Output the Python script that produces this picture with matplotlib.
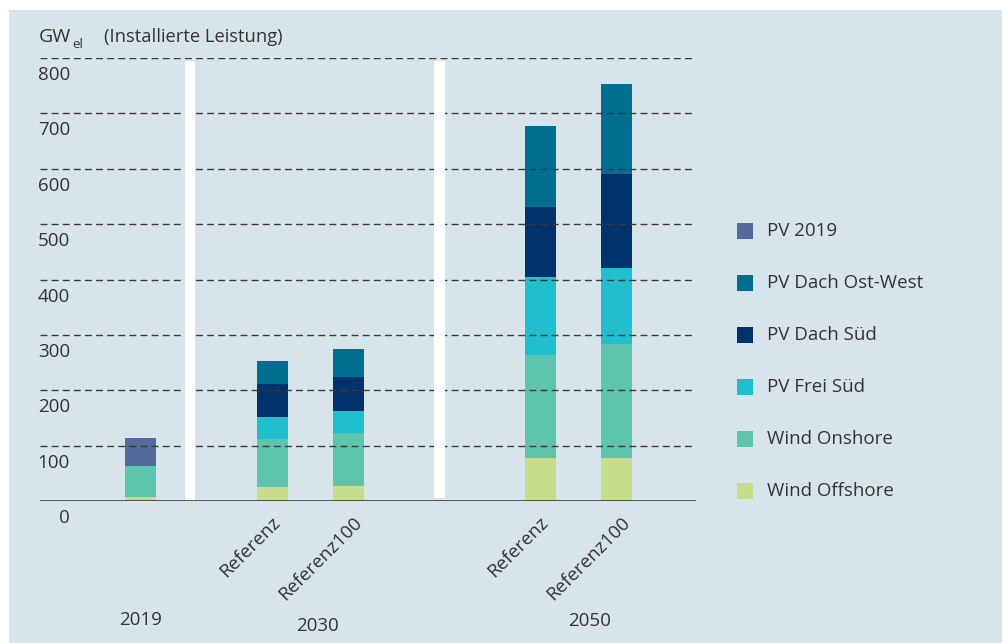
import matplotlib
matplotlib.use("Agg")
import matplotlib.pyplot as plt
import matplotlib.transforms as mtransforms
from matplotlib.patches import Rectangle

# --- Data (GW_el, installed capacity) ---
bar_labels = ["", "Referenz", "Referenz100", "Referenz", "Referenz100"]
group_labels = ["2019", "2030", "2050"]

wind_offshore    = [7.5, 25, 27, 78, 78]
wind_onshore     = [55, 87, 96, 186, 205]
pv_frei_sued     = [0, 40, 40, 140, 138]
pv_dach_sued     = [0, 59, 61, 127, 169]
pv_dach_ost_west = [0, 42, 50, 146, 163]
pv_2019          = [51, 0, 0, 0, 0]

y_ticks = [0, 100, 200, 300, 400, 500, 600, 700, 800]

# --- Layout / style ---
W, H = 1003, 643
BG = "#d8e4ec"
TXT = "#333333"
FONT = "Open Sans"

bar_x = [0, 1.75, 2.75, 5.3, 6.3]
bar_w = 0.41
group_x = [0, 2.34, 5.95]
group_y = [-0.269, -0.282, -0.271]
sep_x = [0.656, 3.96]
sep_w = [0.13, 0.146]
sep_bottom = [0, 6]

# stacking order bottom -> top
series = [
    ("Wind Offshore", wind_offshore, "#c6dd8c"),
    ("Wind Onshore", wind_onshore, "#5dc4ae"),
    ("PV Frei Süd", pv_frei_sued, "#20bfcd"),
    ("PV Dach Süd", pv_dach_sued, "#00326b"),
    ("PV Dach Ost-West", pv_dach_ost_west, "#006e91"),
    ("PV 2019", pv_2019, "#56699b"),
]

plt.rcParams["font.family"] = [FONT, "DejaVu Sans"]

fig = plt.figure(figsize=(W / 100, H / 100), dpi=100)
fig.patch.set_facecolor("white")


def fx(px):
    return px / W


def fy(py):
    return 1 - py / H


# light blue panel with white margin top/left
fig.add_artist(Rectangle((fx(9), 0), 1 - fx(9), fy(10), transform=fig.transFigure,
                         facecolor=BG, edgecolor="none", zorder=0))

ax = fig.add_axes([fx(40), 142 / H, 656 / W, 443 / H])
ax.set_facecolor("none")
ax.set_xlim(-1.331, 7.357)
ax.set_ylim(0, 800)

bottom = [0] * len(bar_x)
for name, vals, col in series:
    ax.bar(bar_x, vals, bar_w, bottom=bottom, color=col, zorder=1, linewidth=0)
    bottom = [b + v for b, v in zip(bottom, vals)]

# dashed grid lines over the bars
for t in y_ticks[1:]:
    ax.axhline(t, color="#3a3a3a", lw=1.0, ls=(0, (5, 3)), zorder=2)

# white separators between the years
for sx, sw, sb in zip(sep_x, sep_w, sep_bottom):
    ax.bar(sx, 795 - sb, sw, bottom=sb, color="white", zorder=3, linewidth=0)

ax.axhline(0, color="#2b2b2b", lw=1.8, zorder=4)

for s in ax.spines.values():
    s.set_visible(False)
ax.set_xticks([])
ax.set_yticks([])

# y labels sit below their grid lines
ylab_tr = mtransforms.offset_copy(ax.get_yaxis_transform(), fig=fig, y=-17, units="dots")
for t in y_ticks:
    ax.text(0.0457, t, str(t), transform=ylab_tr, ha="right", va="center",
            fontsize=13.5, color=TXT)

# rotated scenario labels
for x, lab in zip(bar_x, bar_labels):
    if not lab:
        continue
    dx = -2 if lab == "Referenz" else 5
    tr = mtransforms.offset_copy(ax.get_xaxis_transform(), fig=fig, x=dx, y=-12, units="dots")
    ax.text(x, 0, lab, transform=tr, rotation=45, rotation_mode="anchor",
            ha="right", va="top", fontsize=13.5, color=TXT)

for x, gy, lab in zip(group_x, group_y, group_labels):
    ax.text(x, gy, lab, transform=ax.get_xaxis_transform(), ha="center", va="center",
            fontsize=13.5, color=TXT)

# axis unit title
fig.text(fx(39), fy(37), "GW", ha="left", va="center", fontsize=14, color=TXT)
fig.text(fx(72), fy(44), "el", ha="left", va="center", fontsize=9.5, color=TXT)
fig.text(fx(104), fy(37), "(Installierte Leistung)", ha="left", va="center",
         fontsize=13.2, color=TXT)

# legend, top to bottom
legend_rows = list(reversed(series))
for i, (name, vals, col) in enumerate(legend_rows):
    yc = 231 + 52 * i
    fig.add_artist(Rectangle((fx(737), fy(yc + 8)), 16 / W, 16 / H, transform=fig.transFigure,
                             facecolor=col, edgecolor="none"))
    fig.text(fx(767), fy(yc), name, ha="left", va="center", fontsize=13.5, color=TXT)

fig.savefig("out.png", dpi=100, facecolor=fig.get_facecolor())
